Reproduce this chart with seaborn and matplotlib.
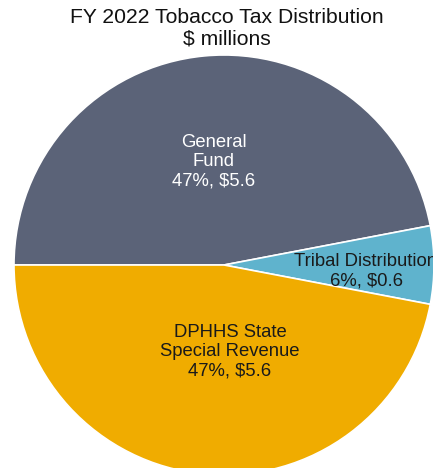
import matplotlib
matplotlib.use("Agg")
import matplotlib.pyplot as plt
import seaborn as sns

# Tobacco tax distribution, FY 2022
categories = ["General\nFund", "Tribal Distribution", "DPHHS State\nSpecial Revenue"]
percents = [47, 6, 47]
dollars = [5.6, 0.6, 5.6]
colors = ["#5B6378", "#5FB3CD", "#F0AC00"]
text_colors = ["white", "#1a1a1a", "#1a1a1a"]

sns.set_theme(style="white")
plt.rcParams["font.family"] = ["Liberation Sans", "DejaVu Sans"]

fig = plt.figure(figsize=(4.33, 4.68), dpi=100)
ax = fig.add_axes([0, 0, 1, 1])

center = (224, 203)
radius = 210
ax.pie(percents, colors=colors, startangle=180, counterclock=False,
       center=center, radius=radius, frame=True,
       wedgeprops=dict(edgecolor="white", linewidth=1.2))
ax.set_xlim(0, 433)
ax.set_ylim(0, 468)
ax.axis("off")

label_pos = [(214, 306), (366, 197), (230, 116)]
for cat, p, d, (x, y), tc in zip(categories, percents, dollars, label_pos, text_colors):
    ax.text(x, y, f"{cat}\n{p}%, ${d:.1f}", ha="center", va="center",
            color=tc, fontsize=13.3, linespacing=1.17, clip_on=True)

ax.text(226.5, 439.5, "FY 2022 Tobacco Tax Distribution\n$ millions", ha="center",
        va="center", fontsize=15.2, color="#111111", linespacing=1.2)

fig.savefig("out.png", dpi=100)
